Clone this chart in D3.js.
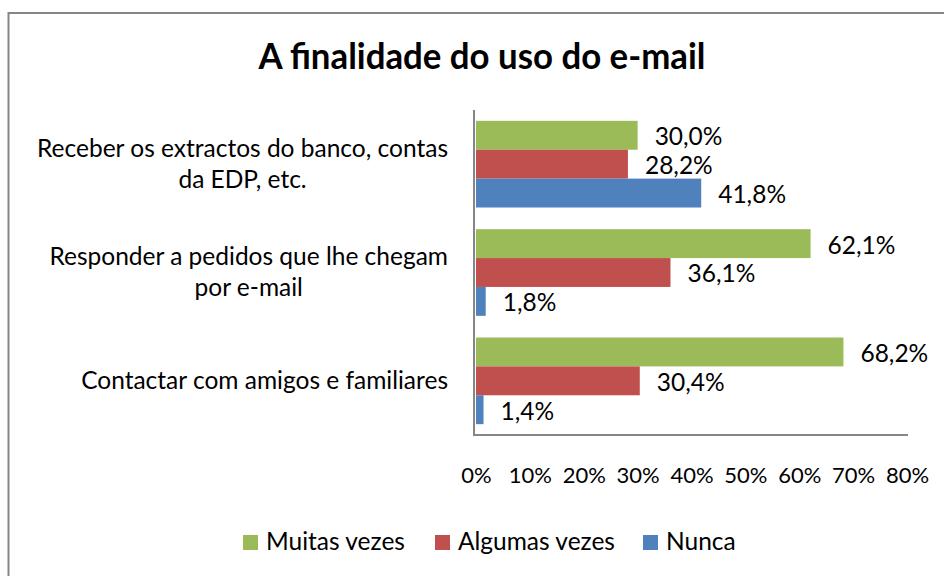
<!DOCTYPE html>
<html>
<head>
<meta charset="utf-8">
<script src="https://cdn.jsdelivr.net/npm/d3@7"></script>
<style>
  body { margin: 0; background: #fff; }
  text { font-family: Lato, "Open Sans", sans-serif; fill: #000; }
</style>
</head>
<body>
<div id="chart"></div>
<script>
// Dados do gráfico
const categories = [
  ["Receber os extractos do banco, contas", "da EDP, etc."],
  ["Responder a pedidos que lhe chegam", "por e-mail"],
  ["Contactar com amigos e familiares"],
];
const seriesNames = ["Muitas vezes", "Algumas vezes", "Nunca"];
const seriesColors = ["#9BBB59", "#C0504D", "#4F81BD"];
const muitasVezes = [30.0, 62.1, 68.2];
const algumasVezes = [28.2, 36.1, 30.4];
const nunca = [41.8, 1.8, 1.4];
const xTicks = [0, 10, 20, 30, 40, 50, 60, 70, 80];

const values = [muitasVezes, algumasVezes, nunca];
const width = 944, height = 576;
const fontSize = 24.5;

const svg = d3.select("#chart").append("svg")
  .attr("width", width).attr("height", height);

svg.append("rect").attr("width", width).attr("height", height).attr("fill", "#fff");

// Moldura
svg.append("rect")
  .attr("x", 8.5).attr("y", 13)
  .attr("width", 1000).attr("height", 700)
  .attr("fill", "none").attr("stroke", "#868686").attr("stroke-width", 2);

// Título
svg.append("text")
  .attr("x", 482).attr("y", 69)
  .attr("text-anchor", "middle")
  .attr("font-weight", "bold")
  .attr("font-size", 36)
  .attr("textLength", 447).attr("lengthAdjust", "spacingAndGlyphs")
  .text("A finalidade do uso do e-mail");

// Escalas
const x = d3.scaleLinear().domain([0, 80]).range([476, 907]);
const y = d3.scaleBand().domain(d3.range(categories.length))
  .range([110, 435]).paddingInner(0.2).paddingOuter(0.1);
const ySub = d3.scaleBand().domain(d3.range(seriesNames.length))
  .range([0, y.bandwidth()]);

// Barras
const groups = svg.selectAll("g.cat").data(categories).enter()
  .append("g").attr("class", "cat")
  .attr("transform", (d, i) => `translate(0,${y(i)})`);

groups.each(function (d, ci) {
  const g = d3.select(this);
  seriesNames.forEach((s, si) => {
    const v = values[si][ci];
    g.append("rect")
      .attr("x", x(0)).attr("y", ySub(si))
      .attr("width", x(v) - x(0)).attr("height", ySub.bandwidth())
      .attr("fill", seriesColors[si]);
    g.append("text")
      .attr("x", x(v) + 17)
      .attr("y", ySub(si) + ySub.bandwidth() / 2 + 10)
      .attr("font-size", fontSize)
      .text(v.toFixed(1).replace(".", ",") + "%");
  });
});

// Eixos
const axisColor = "#868686";
svg.append("line")
  .attr("x1", 474).attr("x2", 474).attr("y1", 110).attr("y2", 436)
  .attr("stroke", axisColor).attr("stroke-width", 2);
const xAxis = svg.append("g").attr("transform", "translate(0,435)")
  .call(d3.axisBottom(x).tickValues(xTicks).tickSize(0).tickPadding(0)
    .tickFormat((d) => d + "%"));
xAxis.select(".domain").attr("stroke", axisColor).attr("stroke-width", 2)
  .attr("d", "M473,0H908");
xAxis.selectAll("text")
  .attr("font-size", 22).attr("font-family", null)
  .attr("dy", null).attr("y", 48);

// Rótulos das categorias
groups.each(function (lines, ci) {
  const g = d3.select(this);
  const t = g.append("text").attr("font-size", fontSize).attr("text-anchor", "middle");
  lines.forEach((line, li) => {
    t.append("tspan")
      .attr("y", y.bandwidth() / 2 + 8.5 + (li - (lines.length - 1) / 2) * 31)
      .text(line);
  });
  const w = d3.max(t.selectAll("tspan").nodes(), (n) => n.getComputedTextLength());
  t.selectAll("tspan").attr("x", 448 - w / 2);
});

// Legenda
const legendX = [243, 435, 643];
seriesNames.forEach((s, i) => {
  svg.append("rect")
    .attr("x", legendX[i]).attr("y", 535).attr("width", 15).attr("height", 15)
    .attr("fill", seriesColors[i]);
  svg.append("text")
    .attr("x", legendX[i] + 23).attr("y", 550)
    .attr("font-size", fontSize)
    .text(s);
});
</script>
</body>
</html>
